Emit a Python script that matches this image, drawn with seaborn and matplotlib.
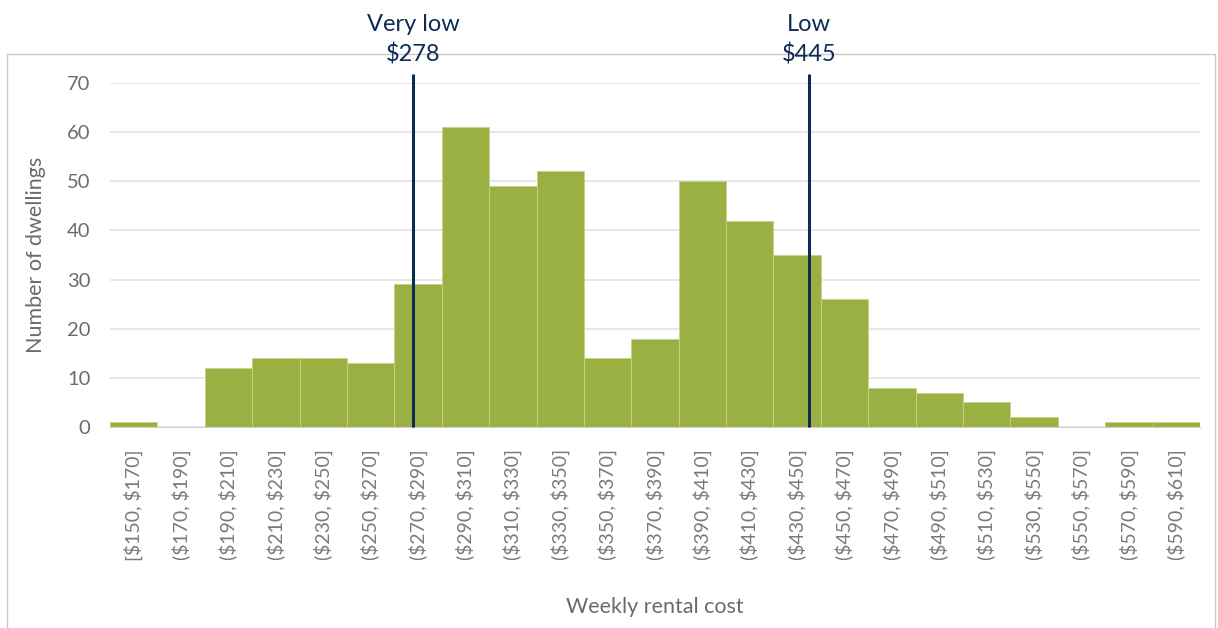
import seaborn as sns
import matplotlib.pyplot as plt
import pandas as pd
from matplotlib.patches import Rectangle

# bins of weekly rent and dwelling counts
bins = ['[$150, $170]', '($170, $190]', '($190, $210]', '($210, $230]', '($230, $250]',
        '($250, $270]', '($270, $290]', '($290, $310]', '($310, $330]', '($330, $350]',
        '($350, $370]', '($370, $390]', '($390, $410]', '($410, $430]', '($430, $450]',
        '($450, $470]', '($470, $490]', '($490, $510]', '($510, $530]', '($530, $550]',
        '($550, $570]', '($570, $590]', '($590, $610]']
counts = [1, 0, 12, 14, 14, 13, 29, 61, 49, 52, 14, 18, 50, 42, 35, 26, 8, 7, 5, 2, 0, 1, 1]

bin_start = 150
bin_width = 20
thresholds = [278, 445]
threshold_labels = ['Very low\n$278', 'Low\n$445']

df = pd.DataFrame({'bin': bins, 'count': counts})

sns.set_style('white')
plt.rcParams['font.family'] = ['Lato', 'DejaVu Sans']
plt.rcParams['text.parse_math'] = False

fig = plt.figure(figsize=(12.18, 6.28), dpi=100)
ax = fig.add_axes([110 / 1218, 1 - 427 / 628, 1090 / 1218, 344 / 628])

sns.barplot(data=df, x='bin', y='count', color='#9bb042', width=1, saturation=1,
            edgecolor='#c5d38a', linewidth=0.6, ax=ax)

ax.set_ylim(0, 70)
ax.set_xlim(-0.5, len(bins) - 0.5)
ax.set_yticks(range(0, 71, 10))
ax.yaxis.grid(True, color='#e3e3e3', linewidth=1.2)
ax.set_axisbelow(True)
for s in ['top', 'right', 'left']:
    ax.spines[s].set_visible(False)
ax.spines['bottom'].set_color('#d0d0d0')

ax.tick_params(axis='y', labelsize=14.5, labelcolor='#6b6b6b', length=0, pad=14)
ax.tick_params(axis='x', labelsize=14, labelcolor='#7a7a7a', length=0, pad=16)
plt.setp(ax.get_xticklabels(), rotation=90)

ax.set_xlabel('Weekly rental cost', fontsize=15.5, color='#6b6b6b', labelpad=26)
ax.set_ylabel('Number of dwellings', fontsize=15.5, color='#6b6b6b', labelpad=15)

for t, lab in zip(thresholds, threshold_labels):
    pos = (t - bin_start) / bin_width - 0.5
    ax.vlines(pos, 0, 71.8, color='#0d2c55', linewidth=2.2, clip_on=False, zorder=5)
    ax.text(pos, 73.6, lab, ha='center', va='bottom', fontsize=17, color='#0d2c55',
            linespacing=1.45)

fig.add_artist(Rectangle((7 / 1218, -0.01), 1208 / 1218, 1 - 54 / 628 + 0.01,
                         transform=fig.transFigure, fill=False, edgecolor='#c8c8c8',
                         linewidth=1, zorder=0))

fig.savefig('out.png', dpi=100)
